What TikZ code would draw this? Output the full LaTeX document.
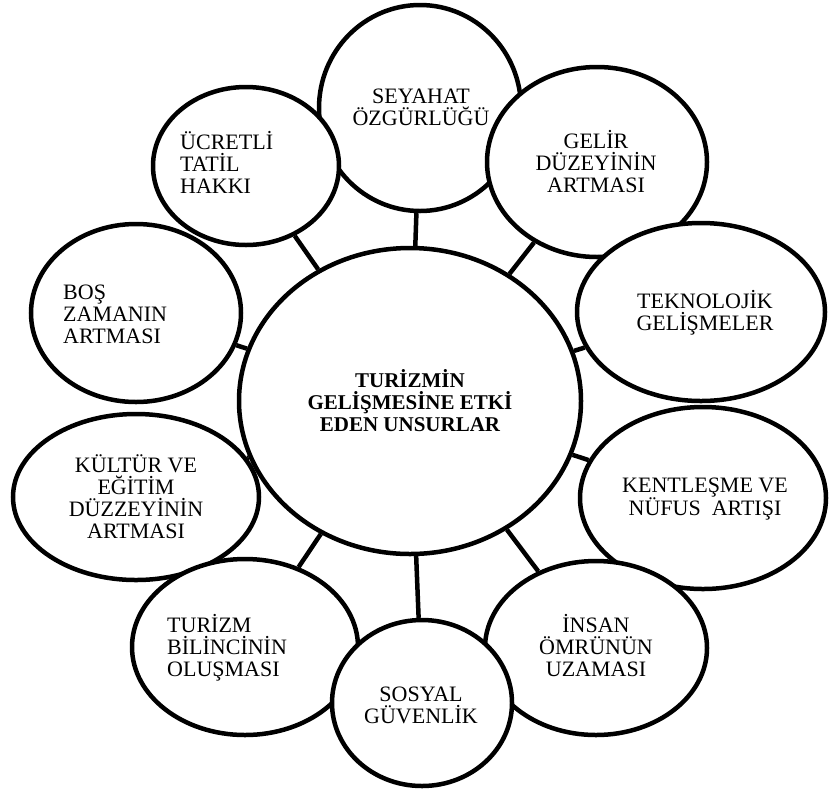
\documentclass[tikz,border=0pt]{standalone}
\usepackage{fontspec}
\setmainfont{Liberation Serif}
\usepackage{tikz}
\usetikzlibrary{shapes.geometric}

\begin{document}
\begin{tikzpicture}[x=1pt, y=-1pt,
        bubble/.style={ellipse, draw, line width=4.5pt, fill=white, inner sep=0pt},
        link/.style={line width=4.5pt},
        bubbletext/.style={inner sep=0pt, font=\fontsize{22}{22}\selectfont}]
    \useasboundingbox (0, 0) rectangle (829, 796);
    % satellites, later ones lie on top
    \node[bubble, minimum width=202, minimum height=206] (sey) at (420, 108) {};
    \node[bubble, minimum width=186, minimum height=158] (ucr) at (246, 166) {};
    \node[bubble, minimum width=220, minimum height=190] (gel) at (597, 162) {};
    \node[bubble, minimum width=248, minimum height=178] (tek) at (701, 312) {};
    \node[bubble, minimum width=210, minimum height=178] (bos) at (136, 313) {};
    \node[bubble, minimum width=246, minimum height=166] (kul) at (136, 497) {};
    \node[bubble, minimum width=226, minimum height=176] (tur) at (245, 647) {};
    \node[bubble, minimum width=246, minimum height=182] (ken) at (703, 498) {};
    \node[bubble, minimum width=222, minimum height=174] (ins) at (596, 648) {};
    \node[bubble, minimum width=180, minimum height=166] (sos) at (422, 703) {};
    \node[bubble, fill=none, minimum width=342, minimum height=306, align=center,
        font=\fontsize{21}{22}\selectfont\bfseries] (mid) at (410, 401)
        {TURİZMİN\\GELİŞMESİNE ETKİ\\EDEN UNSURLAR};
    \foreach \n in {sey, ucr, gel, tek, bos, kul, tur, ken, ins, sos}
        \draw[link] (mid) -- (\n);
    % texts
    \node[bubbletext, align=center] (t-sey) at (421, 107) {SEYAHAT\\ÖZGÜRLÜĞÜ};
    \node[bubbletext, align=left, anchor=west] (t-ucr) at (180, 162) {ÜCRETLİ\\TATİL\\HAKKI};
    \node[bubbletext, align=center] (t-gel) at (596, 162) {GELİR\\DÜZEYİNİN\\ARTMASI};
    \node[bubbletext, align=center] (t-tek) at (705, 313) {TEKNOLOJİK\\GELİŞMELER};
    \node[bubbletext, align=left, anchor=west] (t-bos) at (63, 314) {BOŞ\\ZAMANIN\\ARTMASI};
    \node[bubbletext, align=center] (t-kul) at (136, 497) {KÜLTÜR VE\\EĞİTİM\\DÜZZEYİNİN\\ARTMASI};
    \node[bubbletext, align=left, anchor=west] (t-tur) at (167, 648) {TURİZM\\BİLİNCİNİN\\OLUŞMASI};
    \node[bubbletext, align=center] (t-ken) at (705, 499) {KENTLEŞME VE\\NÜFUS\ \ ARTIŞI};
    \node[bubbletext, align=center] (t-ins) at (596, 646) {İNSAN\\ÖMRÜNÜN\\UZAMASI};
    \node[bubbletext, align=center] (t-sos) at (421, 705) {SOSYAL\\GÜVENLİK};
\end{tikzpicture}
\end{document}
